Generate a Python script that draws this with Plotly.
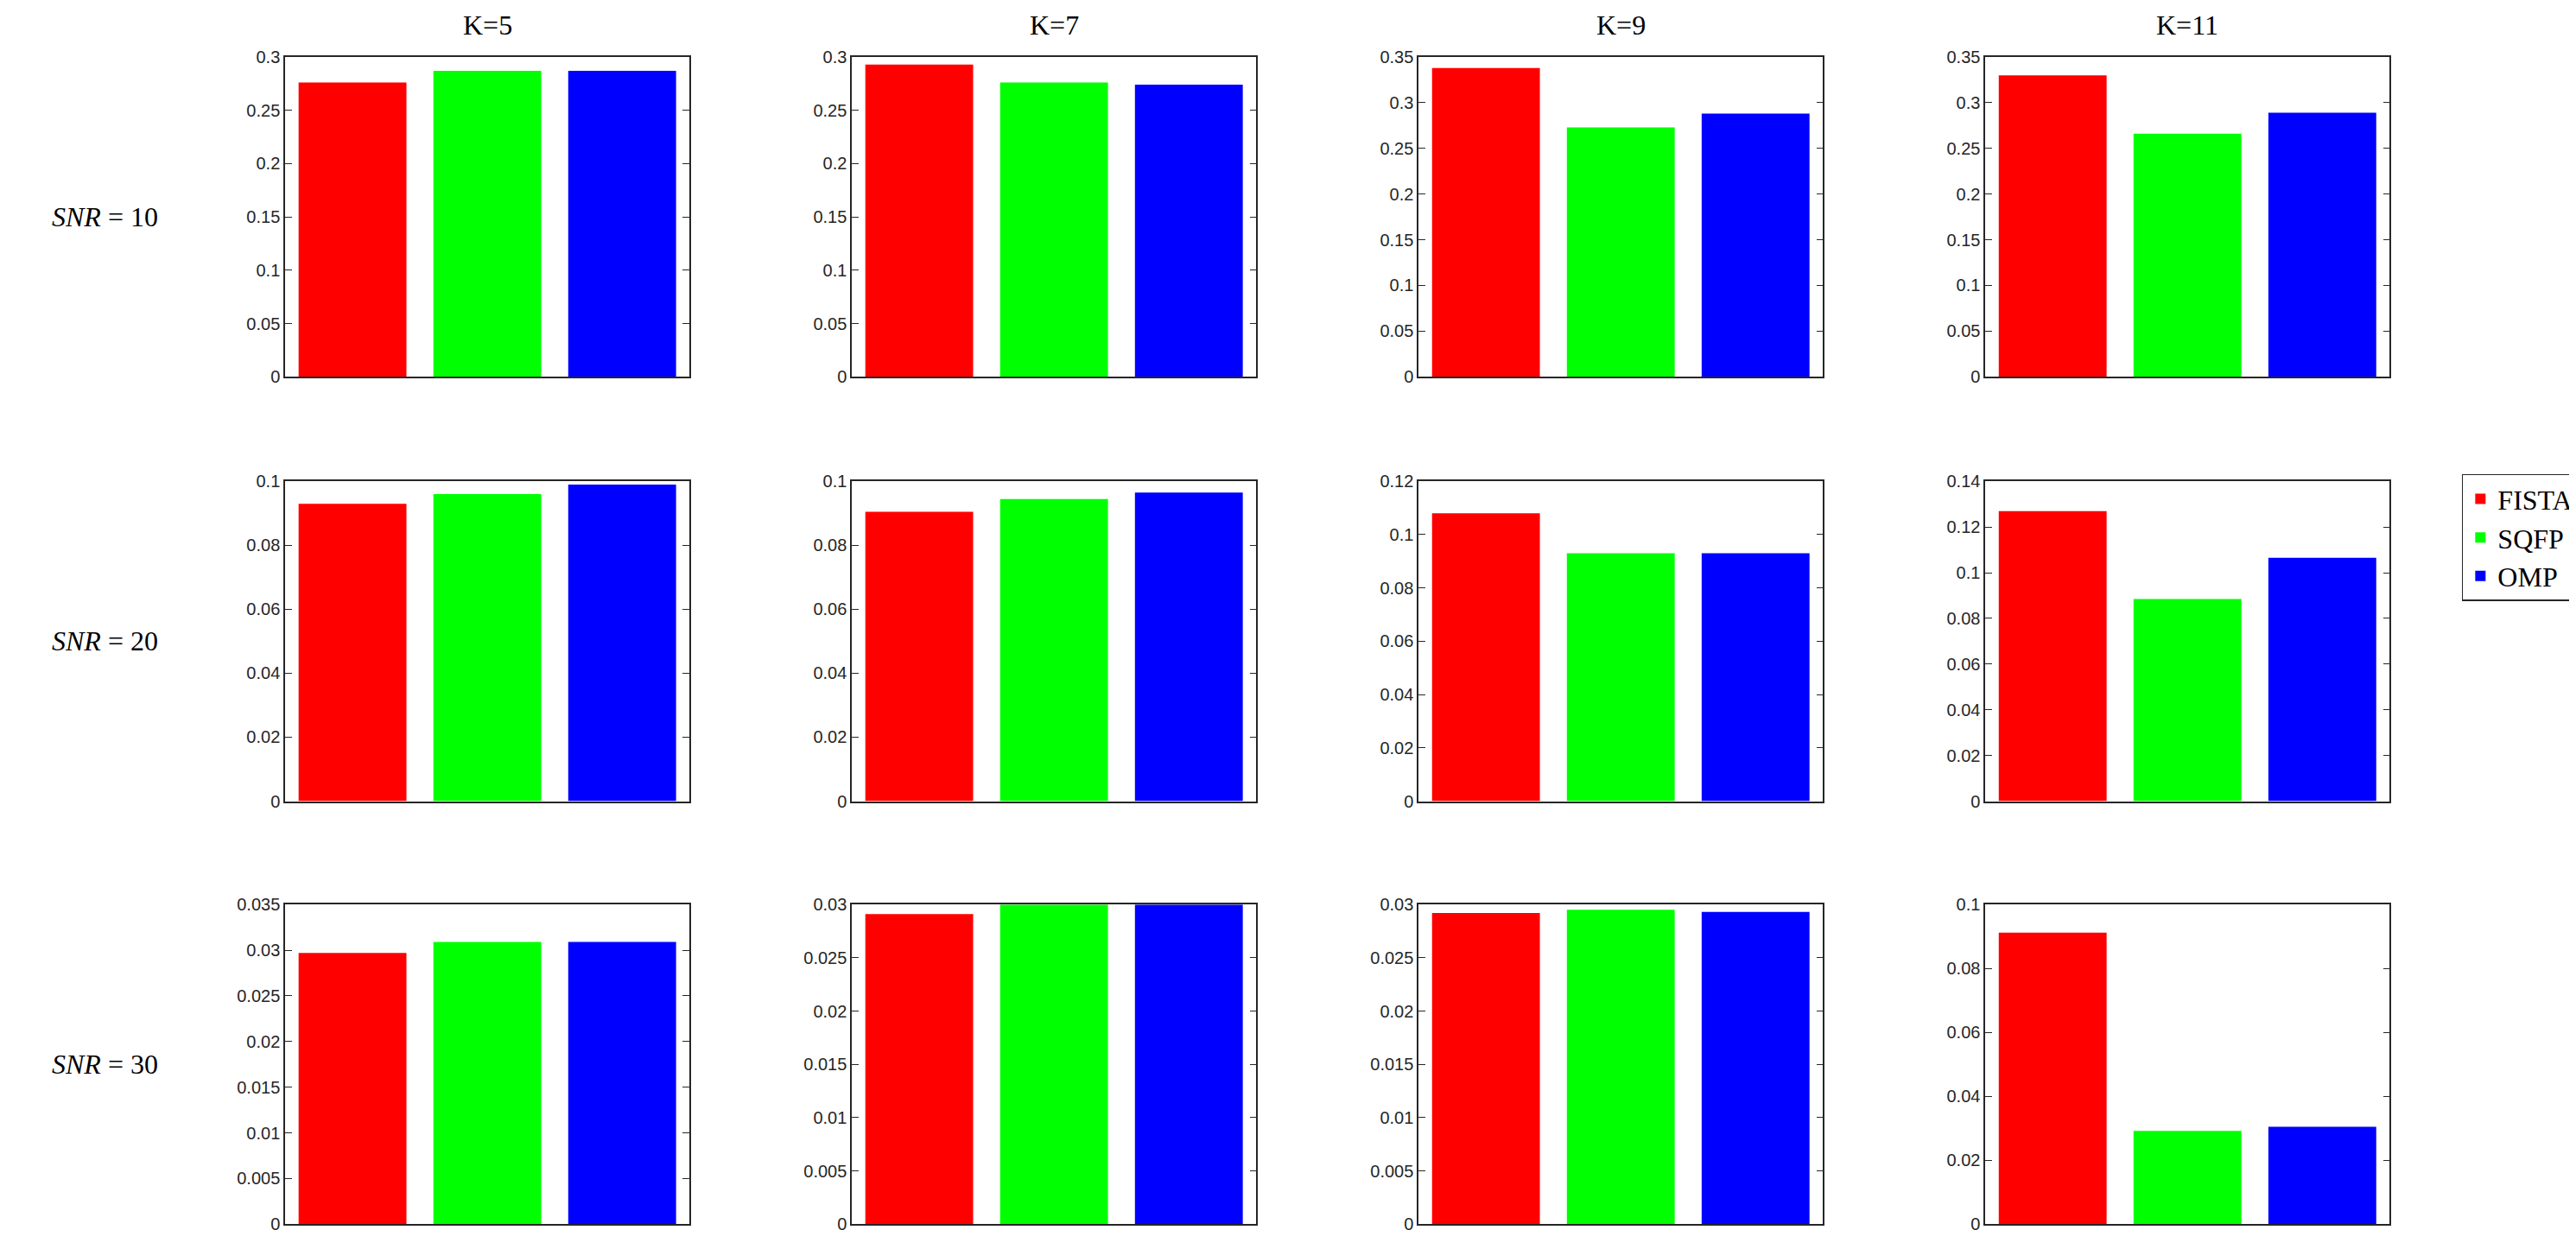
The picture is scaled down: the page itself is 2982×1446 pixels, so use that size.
import plotly.graph_objects as go
from plotly.subplots import make_subplots

methods = ["FISTA", "SQFP", "OMP"]
colors = ["#ff0000", "#00ff00", "#0000ff"]
k_labels = ["K=5", "K=7", "K=9", "K=11"]
snr_labels = ["SNR = 10", "SNR = 20", "SNR = 30"]

# values[row][col] -> [FISTA, SQFP, OMP]
snr10 = [[0.276, 0.287, 0.287], [0.293, 0.276, 0.274], [0.338, 0.273, 0.288], [0.330, 0.266, 0.289]]
snr20 = [[0.093, 0.096, 0.099], [0.0905, 0.0945, 0.0965], [0.108, 0.093, 0.093], [0.127, 0.0885, 0.1065]]
snr30 = [[0.0297, 0.0309, 0.0309], [0.0291, 0.0300, 0.0300], [0.0292, 0.0295, 0.0293], [0.0912, 0.0292, 0.0305]]
values = [snr10, snr20, snr30]

y_max = [[0.3, 0.3, 0.35, 0.35], [0.1, 0.1, 0.12, 0.14], [0.035, 0.03, 0.03, 0.1]]
y_step = [[0.05] * 4, [0.02] * 4, [0.005, 0.005, 0.005, 0.02]]

x_dom = [(0.108, 0.265), (0.328, 0.485), (0.548, 0.705), (0.768, 0.925)]
y_dom = [(0.707, 0.967), (0.362, 0.622), (0.018, 0.278)]

fig = make_subplots(rows=3, cols=4)
for r in range(3):
    for c in range(4):
        for i, m in enumerate(methods):
            fig.add_trace(
                go.Bar(x=[i + 1], y=[values[r][c][i]], name=m, marker_color=colors[i],
                       marker_line_width=0, width=0.8, showlegend=(r == 0 and c == 0)),
                row=r + 1, col=c + 1,
            )
        fig.update_xaxes(domain=list(x_dom[c]), range=[0.5, 3.5], showticklabels=False,
                         ticks="", showline=True, linecolor="#262626", linewidth=1.5,
                         mirror=True, showgrid=False, zeroline=False, row=r + 1, col=c + 1)
        fig.update_yaxes(domain=list(y_dom[r]), range=[0, y_max[r][c]], dtick=y_step[r][c],
                         tick0=0, ticks="inside", ticklen=8, tickcolor="#262626",
                         showline=True, linecolor="#262626", linewidth=1.5, mirror="ticks",
                         showgrid=False, zeroline=False,
                         tickfont=dict(family="Liberation Sans", size=20, color="#262626"),
                         row=r + 1, col=c + 1)

annotations = []
for c, lab in enumerate(k_labels):
    annotations.append(dict(text=lab, x=sum(x_dom[c]) / 2, y=y_dom[0][1] + 0.012, xref="paper",
                            yref="paper", xanchor="center", yanchor="bottom", showarrow=False,
                            font=dict(family="Liberation Serif", size=32, color="black")))
for r, lab in enumerate(snr_labels):
    annotations.append(dict(text="<i>SNR</i> = " + lab.split("= ")[1], x=0.038, y=sum(y_dom[r]) / 2,
                            xref="paper", yref="paper", xanchor="center", yanchor="middle",
                            showarrow=False,
                            font=dict(family="Liberation Serif", size=32, color="black")))

fig.update_layout(
    width=2982, height=1446, plot_bgcolor="white", paper_bgcolor="white",
    margin=dict(l=0, r=0, t=0, b=0), barmode="overlay",
    annotations=annotations,
    legend=dict(x=0.953, y=0.628, xanchor="left", yanchor="top", bordercolor="#262626",
                borderwidth=1.5, bgcolor="white",
                font=dict(family="Liberation Serif", size=32, color="black")),
)

fig.write_html("out.html")
